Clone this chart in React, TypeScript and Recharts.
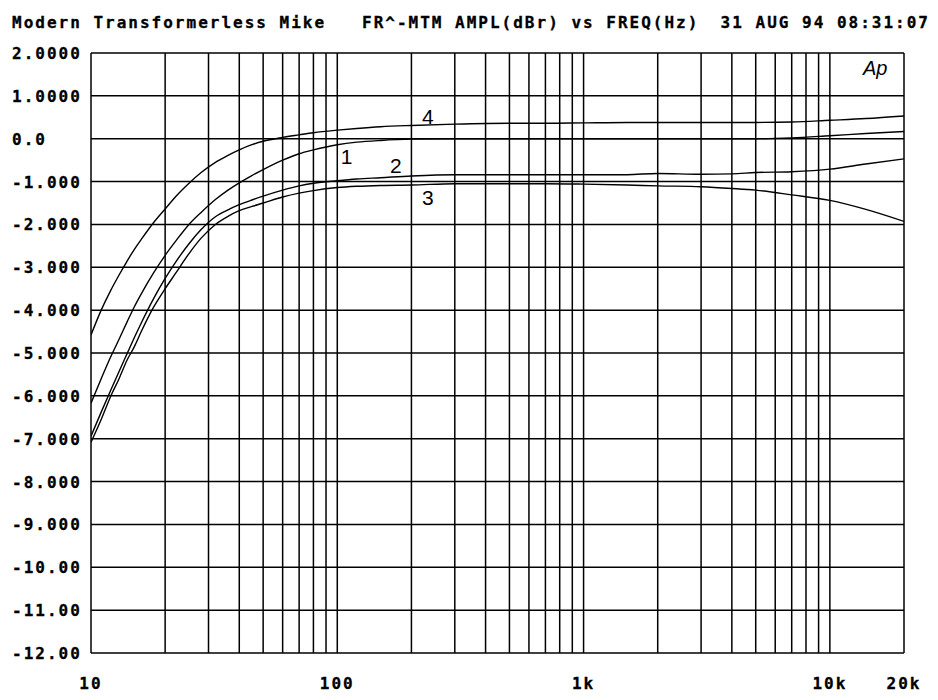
import React from 'react';
import { LineChart, Line, XAxis, YAxis, CartesianGrid, ReferenceDot } from 'recharts';

const freqs = [10, 11, 12, 13, 14, 15, 16, 18, 20, 22, 25, 28, 32, 36, 40, 45, 50, 60, 70, 80, 100, 120, 150, 200, 300, 500, 700, 1000, 1500, 2000, 3000, 4000, 5000, 7000, 10000, 14000, 20000];

const curve1 = [-6.17, -5.6, -5.1, -4.68, -4.28, -3.92, -3.62, -3.12, -2.72, -2.4, -2.0, -1.72, -1.42, -1.2, -1.03, -0.86, -0.72, -0.5, -0.35, -0.26, -0.14, -0.08, -0.04, -0.01, 0, 0, 0, 0, 0, 0, 0, 0, 0, 0.02, 0.07, 0.12, 0.17];
const curve2 = [-6.94, -6.38, -5.88, -5.43, -5.02, -4.64, -4.3, -3.72, -3.26, -2.89, -2.45, -2.12, -1.82, -1.66, -1.54, -1.43, -1.34, -1.2, -1.1, -1.04, -0.98, -0.94, -0.91, -0.87, -0.84, -0.84, -0.84, -0.84, -0.84, -0.81, -0.83, -0.82, -0.79, -0.77, -0.71, -0.59, -0.47];
const curve3 = [-7.08, -6.55, -6.02, -5.6, -5.17, -4.85, -4.5, -3.92, -3.5, -3.15, -2.68, -2.32, -2.0, -1.81, -1.68, -1.58, -1.5, -1.36, -1.27, -1.21, -1.14, -1.11, -1.09, -1.08, -1.05, -1.05, -1.05, -1.06, -1.08, -1.1, -1.12, -1.16, -1.2, -1.31, -1.44, -1.65, -1.93];
const curve4 = [-4.58, -4.0, -3.55, -3.18, -2.86, -2.58, -2.35, -1.95, -1.64, -1.36, -1.04, -0.79, -0.55, -0.39, -0.26, -0.14, -0.06, 0.03, 0.09, 0.14, 0.2, 0.24, 0.28, 0.31, 0.34, 0.36, 0.36, 0.37, 0.38, 0.38, 0.38, 0.38, 0.38, 0.39, 0.43, 0.47, 0.53];

const xTicks = [10, 20, 30, 40, 50, 60, 70, 80, 90, 100, 200, 300, 400, 500, 600, 700, 800, 900, 1000, 2000, 3000, 4000, 5000, 6000, 7000, 8000, 9000, 10000, 20000];
const xTickValues = [10, 100, 1000, 10000, 20000];
const xTickLabels = ['10', '100', '1k', '10k', '20k'];

const yTicks = [2, 1, 0, -1, -2, -3, -4, -5, -6, -7, -8, -9, -10, -11, -12];
const yTickLabels = ['2.0000', '1.0000', '0.0', '-1.000', '-2.000', '-3.000', '-4.000', '-5.000', '-6.000', '-7.000', '-8.000', '-9.000', '-10.00', '-11.00', '-12.00'];

const curveLabels = [
  { name: '4', f: 233, v: 0.52 },
  { name: '1', f: 109, v: -0.41 },
  { name: '2', f: 173, v: -0.62 },
  { name: '3', f: 233, v: -1.37 },
];

const titleLeft = 'Modern Transformerless Mike';
const titleMid = 'FR^-MTM AMPL(dBr) vs FREQ(Hz)';
const titleRight = '31 AUG 94 08:31:07';

const data = freqs.map((f, i) => ({ f, c1: curve1[i], c2: curve2[i], c3: curve3[i], c4: curve4[i] }));

const monoStyle: React.CSSProperties = {
  fontFamily: '"DejaVu Sans Mono", monospace',
  fontWeight: 'bold',
  fontSize: 16,
  letterSpacing: 2,
};

const XTick = (props: any) => {
  const { x, y, payload } = props;
  const idx = xTickValues.indexOf(payload.value);
  if (idx < 0) return <g />;
  return (
    <text x={x} y={y + 28} textAnchor="middle" fill="#000" stroke="#000" strokeWidth={0.3} style={monoStyle}>
      {xTickLabels[idx]}
    </text>
  );
};

const YTick = (props: any) => {
  const { y, payload } = props;
  const idx = yTicks.indexOf(payload.value);
  return (
    <text x={4} y={y + 6} textAnchor="start" fill="#000" stroke="#000" strokeWidth={0.3} style={monoStyle}>
      {idx >= 0 ? yTickLabels[idx] : ''}
    </text>
  );
};

const LabelShape = (name: string) => (props: any) => (
  <text
    x={props.cx}
    y={props.cy}
    textAnchor="middle"
    dominantBaseline="central"
    fill="#000"
    style={{ fontFamily: '"Liberation Sans", Arial, sans-serif', fontSize: 21 }}
  >
    {name}
  </text>
);

export default function App() {
  return (
    <div style={{ position: 'relative', width: 930, height: 692, background: '#fff' }}>
      <LineChart width={930} height={692} data={data} margin={{ top: 45, right: 34, left: 0, bottom: 0 }}>
        <CartesianGrid stroke="#000" strokeWidth={1.5} horizontal vertical />
        <XAxis
          dataKey="f"
          type="number"
          scale="log"
          domain={[10, 20000]}
          ticks={xTicks}
          interval={0}
          allowDataOverflow
          axisLine={false}
          tickLine={false}
          height={47}
          tick={<XTick />}
        />
        <YAxis
          type="number"
          domain={[-12, 2]}
          ticks={yTicks}
          interval={0}
          allowDataOverflow
          axisLine={false}
          tickLine={false}
          width={83}
          tick={<YTick />}
        />
        <Line dataKey="c4" type="monotone" stroke="#000" strokeWidth={1.4} dot={false} isAnimationActive={false} />
        <Line dataKey="c1" type="monotone" stroke="#000" strokeWidth={1.4} dot={false} isAnimationActive={false} />
        <Line dataKey="c2" type="monotone" stroke="#000" strokeWidth={1.4} dot={false} isAnimationActive={false} />
        <Line dataKey="c3" type="monotone" stroke="#000" strokeWidth={1.4} dot={false} isAnimationActive={false} />
        {curveLabels.map((l) => (
          <ReferenceDot key={l.name} x={l.f} y={l.v} r={0} shape={LabelShape(l.name)} />
        ))}
      </LineChart>
      <svg width={930} height={80} style={{ position: 'absolute', left: 0, top: 0, pointerEvents: 'none' }}>
        <text x={4} y={20} fill="#000" stroke="#000" strokeWidth={0.3} style={monoStyle}>{titleLeft}</text>
        <text x={354} y={20} fill="#000" stroke="#000" strokeWidth={0.3} style={monoStyle}>{titleMid}</text>
        <text x={922} y={20} textAnchor="end" fill="#000" stroke="#000" strokeWidth={0.3} style={monoStyle}>{titleRight}</text>
        <text x={855} y={67} fill="#000" style={{ fontFamily: '"Liberation Sans", Arial, sans-serif', fontStyle: 'italic', fontSize: 20 }}>Ap</text>
      </svg>
    </div>
  );
}
